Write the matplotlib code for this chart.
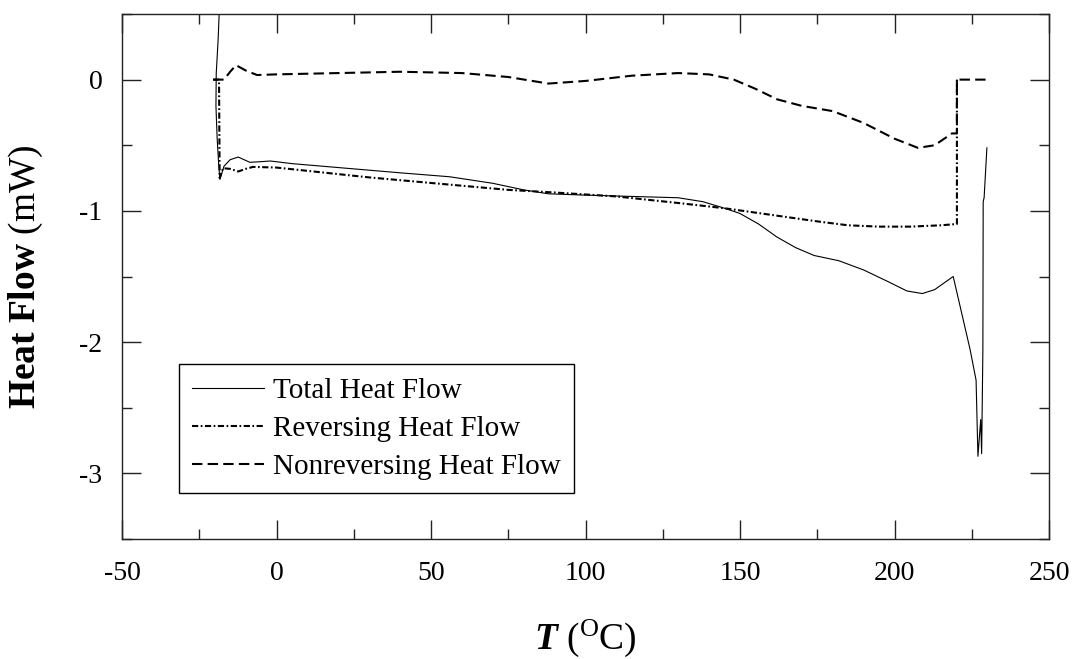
import numpy as np
import matplotlib
matplotlib.use('Agg')
import matplotlib.pyplot as plt
from matplotlib.ticker import MultipleLocator

plt.rcParams['font.family'] = ['Liberation Serif', 'DejaVu Serif']
plt.rcParams['mathtext.fontset'] = 'custom'
plt.rcParams['mathtext.rm'] = 'Liberation Serif'
plt.rcParams['mathtext.bf'] = 'Liberation Serif:bold'
plt.rcParams['mathtext.it'] = 'Liberation Serif:italic'
plt.rcParams['mathtext.bfit'] = 'Liberation Serif:italic:bold'
plt.rcParams['axes.unicode_minus'] = False

# Total heat flow (T in degC, heat flow in mW)
total_T = [-18.3, -18.9, -19.5, -19.6, -19.2, -18.7, -18.3, -17.0, -15.0, -12.4,
           -10.5, -8.6, -5.0, -2.0, 5, 15, 25, 40, 56, 70, 80, 88, 100, 115, 130,
           138, 145, 150, 156, 162, 168, 174, 182, 190, 198, 204, 209, 213, 219,
           224.5, 226.4, 227.0, 227.9, 228.2, 228.6, 228.7, 229.0, 229.9]
total_hf = [0.65, 0.3, 0.05, -0.2, -0.45, -0.65, -0.76, -0.66, -0.61, -0.59,
            -0.61, -0.63, -0.625, -0.62, -0.64, -0.66, -0.68, -0.71, -0.74, -0.79,
            -0.84, -0.87, -0.88, -0.89, -0.90, -0.93, -0.98, -1.02, -1.10, -1.20,
            -1.28, -1.34, -1.38, -1.45, -1.54, -1.61, -1.63, -1.60, -1.50,
            -2.06, -2.29, -2.87, -2.59, -2.85, -2.06, -0.93, -0.90, -0.52]

# Reversing heat flow
rev_T = [-20.5, -18.6, -18.4, -17.3, -15, -12.4, -10, -7.6, 0, 10, 30, 56, 75,
         90, 110, 130, 145, 160, 175, 185, 195, 205, 215, 220.2, 220.2]
rev_hf = [0, 0, -0.75, -0.675, -0.68, -0.70, -0.68, -0.665, -0.67, -0.695,
          -0.745, -0.80, -0.84, -0.86, -0.89, -0.94, -0.98, -1.03, -1.08, -1.11,
          -1.12, -1.12, -1.11, -1.10, 0]

# Nonreversing heat flow
nonrev_T = [-20.5, -17, -15, -13.1, -10, -6.3, 0, 20, 40, 60, 75, 88, 100, 115,
            130, 140, 148, 155, 162, 170, 180, 190, 200, 207.6, 213, 218.6,
            220.2, 220.2, 230]
nonrev_hf = [0, 0, 0.06, 0.11, 0.07, 0.035, 0.04, 0.05, 0.06, 0.05, 0.02, -0.03,
             -0.01, 0.03, 0.05, 0.04, 0.0, -0.07, -0.15, -0.20, -0.24, -0.33,
             -0.45, -0.52, -0.50, -0.41, -0.41, 0, 0]

labels = ['Total Heat Flow', 'Reversing Heat Flow', 'Nonreversing Heat Flow']

W, H = 1076, 659
fig = plt.figure(figsize=(W/100, H/100), dpi=100)
ax = fig.add_axes([122/W, 1 - 539/H, 927/W, 525/H])

ax.plot(total_T, total_hf, 'k-', lw=0.8, label=labels[0])
ax.plot(rev_T, rev_hf, color='k', lw=1.5, dashes=(3, 1.2, 0.8, 1.2), label=labels[1])
ax.plot(nonrev_T, nonrev_hf, color='k', lw=1.5, dashes=(5, 2.5), label=labels[2])

ax.set_xlim(-50, 250)
ax.set_ylim(-3.5, 0.5)
ax.xaxis.set_major_locator(MultipleLocator(50))
ax.xaxis.set_minor_locator(MultipleLocator(25))
ax.yaxis.set_major_locator(MultipleLocator(1))
ax.yaxis.set_minor_locator(MultipleLocator(0.5))
ax.tick_params(which='both', direction='in', top=True, right=True, width=1, color='#222')
ax.tick_params(which='major', length=13.7, labelsize=20, pad=16)
ax.tick_params(which='minor', length=7.2)
ax.tick_params(axis='y', which='major', pad=14)
for s in ax.spines.values():
    s.set_linewidth(1.0)
    s.set_color('#222')

ax.set_xlabel(r'$\mathbfit{T}$ ($^{\mathrm{O}}$C)', fontsize=27)
ax.set_ylabel(r'$\mathbf{Heat\ Flow}$ (mW)', fontsize=27)
ax.xaxis.set_label_coords(0.5, -0.150)
ax.yaxis.set_label_coords(-0.083, 0.5)

leg = ax.legend(loc='lower left', bbox_to_anchor=((179-122)/927, (539-493)/525),
                borderaxespad=0, fontsize=21, fancybox=False, framealpha=1,
                edgecolor='k', handlelength=2.45, handletextpad=0.33,
                borderpad=0.45, labelspacing=0.4)
leg.get_frame().set_linewidth(1.0)

fig.savefig('out.png', dpi=100)
